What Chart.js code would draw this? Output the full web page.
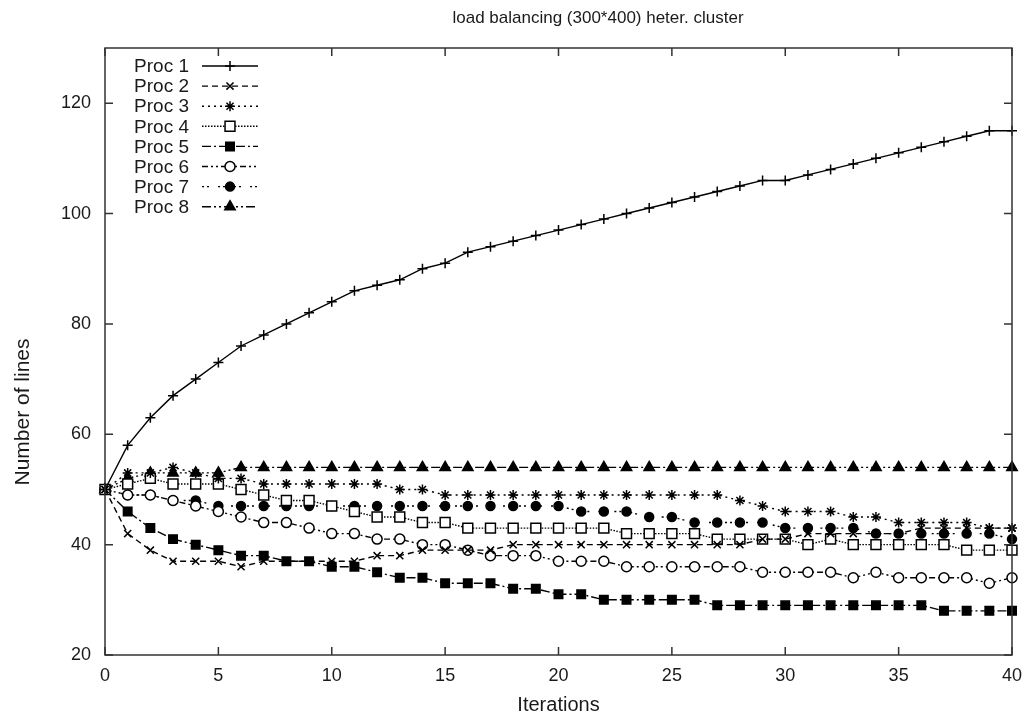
<!DOCTYPE html>
<html>
<head>
<meta charset="utf-8">
<title>load balancing</title>
<script src="https://cdn.jsdelivr.net/npm/chart.js@4.4.1/dist/chart.umd.min.js"></script>
<style>
  body { margin: 0; background: #fff; }
</style>
</head>
<body>
<canvas id="loadChart" width="1023" height="717"></canvas>
<script>
// data
const iterations = [0, 1, 2, 3, 4, 5, 6, 7, 8, 9, 10, 11, 12, 13, 14, 15, 16, 17, 18, 19, 20,
                    21, 22, 23, 24, 25, 26, 27, 28, 29, 30, 31, 32, 33, 34, 35, 36, 37, 38, 39, 40];
const yTicks = [20, 40, 60, 80, 100, 120];
const xTicks = [0, 5, 10, 15, 20, 25, 30, 35, 40];

const proc1 = [50, 58, 63, 67, 70, 73, 76, 78, 80, 82, 84, 86, 87, 88, 90, 91, 93, 94, 95, 96, 97,
               98, 99, 100, 101, 102, 103, 104, 105, 106, 106, 107, 108, 109, 110, 111, 112, 113, 114, 115, 115];
const proc2 = [50, 42, 39, 37, 37, 37, 36, 37, 37, 37, 37, 37, 38, 38, 39, 39, 39, 39, 40, 40, 40,
               40, 40, 40, 40, 40, 40, 40, 40, 41, 41, 42, 42, 42, 42, 42, 43, 43, 43, 43, 43];
const proc3 = [50, 53, 53, 54, 53, 52, 52, 51, 51, 51, 51, 51, 51, 50, 50, 49, 49, 49, 49, 49, 49,
               49, 49, 49, 49, 49, 49, 49, 48, 47, 46, 46, 46, 45, 45, 44, 44, 44, 44, 43, 43];
const proc4 = [50, 51, 52, 51, 51, 51, 50, 49, 48, 48, 47, 46, 45, 45, 44, 44, 43, 43, 43, 43, 43,
               43, 43, 42, 42, 42, 42, 41, 41, 41, 41, 40, 41, 40, 40, 40, 40, 40, 39, 39, 39];
const proc5 = [50, 46, 43, 41, 40, 39, 38, 38, 37, 37, 36, 36, 35, 34, 34, 33, 33, 33, 32, 32, 31,
               31, 30, 30, 30, 30, 30, 29, 29, 29, 29, 29, 29, 29, 29, 29, 29, 28, 28, 28, 28];
const proc6 = [50, 49, 49, 48, 47, 46, 45, 44, 44, 43, 42, 42, 41, 41, 40, 40, 39, 38, 38, 38, 37,
               37, 37, 36, 36, 36, 36, 36, 36, 35, 35, 35, 35, 34, 35, 34, 34, 34, 34, 33, 34];
const proc7 = [50, 49, 49, 48, 48, 47, 47, 47, 47, 47, 47, 47, 47, 47, 47, 47, 47, 47, 47, 47, 47,
               46, 46, 46, 45, 45, 44, 44, 44, 44, 43, 43, 43, 43, 42, 42, 42, 42, 42, 42, 41];
const proc8 = [50, 52, 53, 53, 53, 53, 54, 54, 54, 54, 54, 54, 54, 54, 54, 54, 54, 54, 54, 54, 54,
               54, 54, 54, 54, 54, 54, 54, 54, 54, 54, 54, 54, 54, 54, 54, 54, 54, 54, 54, 54];

const chartTitle = 'load balancing (300*400) heter. cluster';
const yTitle = 'Number of lines';

const FONT = "'Liberation Sans', Arial, Helvetica, sans-serif";
const INK = '#1a1a1a';

function series(label, data, dash, style, radius, fill) {
    return {
        label: label,
        data: data,
        borderColor: '#000',
        borderWidth: 1.4,
        borderDash: dash,
        pointStyle: style,
        pointRadius: radius,
        pointHoverRadius: radius,
        pointBorderColor: '#000',
        pointBackgroundColor: fill,
        pointBorderWidth: 1.5,
        tension: 0,
        clip: 10
    };
}

// gnuplot-like box with inward ticks on all four sides
const frameTicks = {
    id: 'frameTicks',
    afterDatasetsDraw(chart) {
        const ctx = chart.ctx, a = chart.chartArea;
        const xs = chart.scales.x, ys = chart.scales.y;
        const len = 8;
        ctx.save();
        ctx.strokeStyle = '#333';
        ctx.lineWidth = 1.5;
        ctx.setLineDash([]);
        ctx.strokeRect(a.left, a.top, a.right - a.left, a.bottom - a.top);
        ctx.beginPath();
        xTicks.forEach(v => {
            const px = xs.getPixelForValue(v);
            ctx.moveTo(px, a.bottom); ctx.lineTo(px, a.bottom - len);
            ctx.moveTo(px, a.top); ctx.lineTo(px, a.top + len);
        });
        yTicks.forEach(v => {
            const py = ys.getPixelForValue(v);
            ctx.moveTo(a.left, py); ctx.lineTo(a.left + len, py);
            ctx.moveTo(a.right, py); ctx.lineTo(a.right - len, py);
        });
        ctx.stroke();
        ctx.restore();
    }
};

// title and y label sit off-centre in the original, so place them by hand
const freeText = {
    id: 'freeText',
    afterDraw(chart) {
        const ctx = chart.ctx;
        ctx.save();
        ctx.fillStyle = INK;
        ctx.textAlign = 'center';
        ctx.textBaseline = 'middle';
        ctx.font = '17px ' + FONT;
        ctx.fillText(chartTitle, 598, 18);

        ctx.translate(23, 412);
        ctx.rotate(-Math.PI / 2);
        ctx.font = '21px ' + FONT;
        ctx.fillText(yTitle, 0, 0);
        ctx.restore();
    }
};

// legend in the top-left corner: label on the left, line sample + marker on the right
const sideLegend = {
    id: 'sideLegend',
    afterDraw(chart) {
        const ctx = chart.ctx, a = chart.chartArea;
        ctx.save();
        chart.data.datasets.forEach((ds, i) => {
            const y = a.top + 18 + i * 20.1;
            ctx.font = '19px ' + FONT;
            ctx.fillStyle = INK;
            ctx.textAlign = 'right';
            ctx.textBaseline = 'middle';
            ctx.fillText(ds.label, a.left + 84, y + 1);

            ctx.strokeStyle = '#000';
            ctx.lineWidth = ds.borderWidth;
            ctx.setLineDash(ds.borderDash);
            ctx.beginPath();
            ctx.moveTo(a.left + 97, y);
            ctx.lineTo(a.left + 153, y);
            ctx.stroke();

            ctx.setLineDash([]);
            ctx.lineWidth = ds.pointBorderWidth;
            ctx.fillStyle = ds.pointBackgroundColor;
            Chart.helpers.drawPoint(ctx, {
                pointStyle: ds.pointStyle,
                radius: ds.pointRadius,
                rotation: 0,
                borderWidth: ds.pointBorderWidth
            }, a.left + 125, y);
        });
        ctx.restore();
    }
};

let ctx = document.getElementById('loadChart').getContext('2d');

let loadChart = new Chart(ctx, {
    type: 'line',
    data: {
        labels: iterations,
        datasets: [
            series('Proc 1', proc1, [], 'cross', 5, '#000'),
            series('Proc 2', proc2, [6, 4], 'crossRot', 5, '#000'),
            series('Proc 3', proc3, [2, 4], 'star', 5, '#000'),
            series('Proc 4', proc4, [1.5, 1.5], 'rect', 7, '#fff'),
            series('Proc 5', proc5, [9, 3, 2, 3], 'rect', 6, '#000'),
            series('Proc 6', proc6, [6, 3, 2, 3, 2, 3], 'circle', 5, '#fff'),
            series('Proc 7', proc7, [2, 3, 2, 9], 'circle', 4.5, '#000'),
            series('Proc 8', proc8, [9, 3, 2, 3, 2, 3], 'triangle', 6, '#000')
        ]
    },
    options: {
        responsive: false,
        animation: false,
        events: [],
        layout: {
            padding: { left: 0, right: 11, top: 48, bottom: 0 }
        },
        scales: {
            x: {
                type: 'linear',
                min: 0,
                max: 40,
                afterBuildTicks: s => { s.ticks = xTicks.map(v => ({ value: v })); },
                afterFit: s => { s.height = 62; s.paddingRight = 0; s.paddingLeft = 0; },
                grid: { display: false, drawTicks: false },
                border: { display: false },
                ticks: {
                    padding: 10,
                    color: INK,
                    font: { family: FONT, size: 18 }
                },
                title: {
                    display: true,
                    text: 'Iterations',
                    color: INK,
                    padding: { top: 1, bottom: 0 },
                    font: { family: FONT, size: 20 }
                }
            },
            y: {
                min: 20,
                max: 130,
                afterBuildTicks: s => { s.ticks = yTicks.map(v => ({ value: v })); },
                afterFit: s => { s.width = 105; s.paddingTop = 0; s.paddingBottom = 0; },
                grid: { display: false, drawTicks: false },
                border: { display: false },
                ticks: {
                    padding: 14,
                    color: INK,
                    font: { family: FONT, size: 18 }
                },
                title: { display: false }
            }
        },
        plugins: {
            legend: { display: false },
            tooltip: { enabled: false },
            title: { display: false }
        }
    },
    plugins: [frameTicks, sideLegend, freeText]
});
</script>
</body>
</html>
